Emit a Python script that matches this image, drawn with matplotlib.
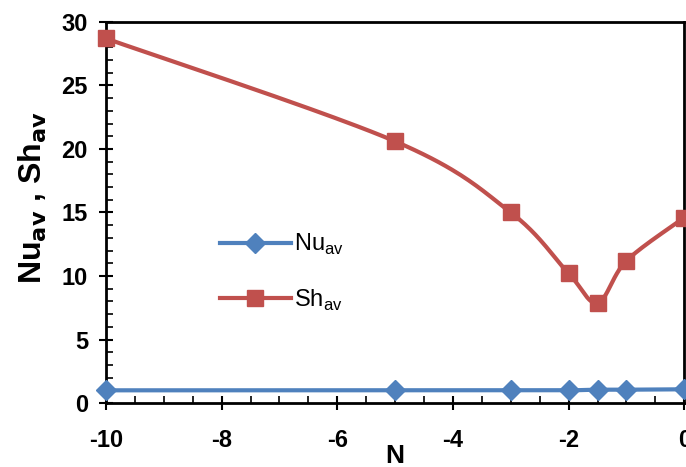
import numpy as np
import matplotlib
matplotlib.use("Agg")
import matplotlib.pyplot as plt
from matplotlib.ticker import MultipleLocator

plt.rcParams["axes.unicode_minus"] = False

N = [-10, -5, -3, -2, -1.5, -1, 0]
Nu_av = [1.0, 1.0, 1.0, 1.0, 1.05, 1.05, 1.08]
Sh_av = [28.7, 20.6, 15.0, 10.2, 7.9, 11.2, 14.6]

XMIN, XMAX, YMIN, YMAX = -10, 0, 0, 30


def smooth(xs, ys, n=40):
    # Excel-like Bezier smoothing in normalized coordinates
    xs = np.asarray(xs, float); ys = np.asarray(ys, float)
    sx = (xs - XMIN) / (XMAX - XMIN) * 578
    sy = (ys - YMIN) / (YMAX - YMIN) * 381
    P = np.column_stack([sx, sy])
    out = []
    m = len(P)
    for i in range(m - 1):
        p0 = P[i - 1] if i > 0 else P[i]
        p1 = P[i]; p2 = P[i + 1]
        p3 = P[i + 2] if i + 2 < m else P[i + 1]
        c1 = p1 + (p2 - p0) / 6.0
        c2 = p2 - (p3 - p1) / 6.0
        t = np.linspace(0, 1, n)[:, None]
        seg = ((1 - t) ** 3) * p1 + 3 * ((1 - t) ** 2) * t * c1 + 3 * (1 - t) * t ** 2 * c2 + t ** 3 * p2
        out.append(seg if i == 0 else seg[1:])
    S = np.vstack(out)
    x = S[:, 0] / 578 * (XMAX - XMIN) + XMIN
    y = S[:, 1] / 381 * (YMAX - YMIN) + YMIN
    return x, y


blue = "#4F81BD"
red = "#C0504D"

fig = plt.figure(figsize=(6.86, 4.67), dpi=100)
ax = fig.add_axes([0.1545, 0.137, 0.843, 0.816])

sx, sy = smooth(N, Nu_av)
ax.plot(sx, sy, color=blue, lw=3, solid_capstyle="round", zorder=2, clip_on=False)
ax.plot(N, Nu_av, linestyle="none", marker="D", ms=10, color=blue, zorder=3, clip_on=False)
sx, sy = smooth(N, Sh_av)
ax.plot(sx, sy, color=red, lw=3, solid_capstyle="round", zorder=2, clip_on=False)
ax.plot(N, Sh_av, linestyle="none", marker="s", ms=12, color=red, zorder=3, clip_on=False)

# legend proxies
h1, = ax.plot([], [], color=blue, lw=3, marker="D", ms=10)
h2, = ax.plot([], [], color=red, lw=3, marker="s", ms=12)
leg = ax.legend([h1, h2], [r"Nu$_\mathregular{av}$", r"Sh$_\mathregular{av}$"],
                loc="upper left", bbox_to_anchor=(0.16, 0.505), frameon=False,
                prop={"family": "Liberation Sans", "size": 17}, handlelength=3.0,
                handletextpad=0.15, labelspacing=1.3)

ax.set_xlim(XMIN, XMAX)
ax.set_ylim(YMIN, YMAX)
ax.xaxis.set_major_locator(MultipleLocator(2))
ax.xaxis.set_minor_locator(MultipleLocator(0.5))
ax.yaxis.set_major_locator(MultipleLocator(5))
ax.yaxis.set_minor_locator(MultipleLocator(1))
ax.tick_params(which="major", direction="inout", length=10, width=1.5, labelsize=17)
ax.tick_params(axis="x", which="major", pad=14)
ax.tick_params(axis="y", which="major", pad=8)
ax.tick_params(which="minor", direction="in", length=5, width=1.2)
for lab in ax.get_xticklabels() + ax.get_yticklabels():
    lab.set_fontweight("bold")
    lab.set_family("Liberation Sans")
for s in ax.spines.values():
    s.set_linewidth(2)

ax.set_xlabel("N", fontsize=19, fontweight="bold", family="Liberation Sans", labelpad=-6)
ax.set_ylabel(r"Nu$_\mathbf{av}$ , Sh$_\mathbf{av}$", fontsize=23, fontweight="bold",
              family="Liberation Sans", labelpad=4)
ax.yaxis.set_label_coords(-0.098, 0.54)

fig.savefig("out.png", dpi=100)
